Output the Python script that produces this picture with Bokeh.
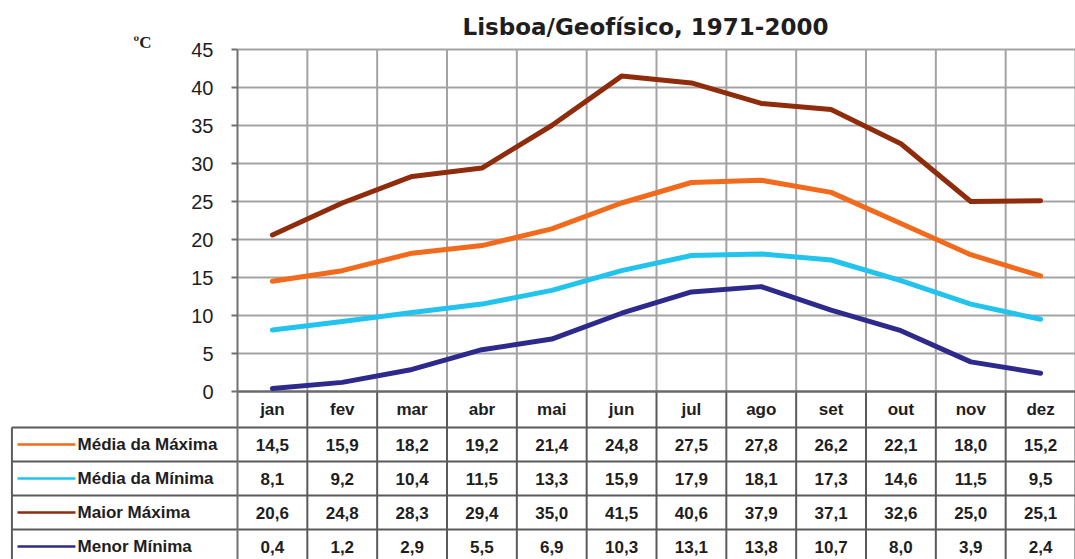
from bokeh.plotting import figure
from bokeh.models import Range1d, FixedTicker, Title
from bokeh.core.properties import value
from bokeh.embed import file_html
from bokeh.resources import INLINE

# ---------------- data ----------------
months = ["jan", "fev", "mar", "abr", "mai", "jun", "jul", "ago", "set", "out", "nov", "dez"]
media_max = [14.5, 15.9, 18.2, 19.2, 21.4, 24.8, 27.5, 27.8, 26.2, 22.1, 18.0, 15.2]
media_min = [8.1, 9.2, 10.4, 11.5, 13.3, 15.9, 17.9, 18.1, 17.3, 14.6, 11.5, 9.5]
maior_max = [20.6, 24.8, 28.3, 29.4, 35.0, 41.5, 40.6, 37.9, 37.1, 32.6, 25.0, 25.1]
menor_min = [0.4, 1.2, 2.9, 5.5, 6.9, 10.3, 13.1, 13.8, 10.7, 8.0, 3.9, 2.4]
series_names = ["Média da Máxima", "Média da Mínima", "Maior Máxima", "Menor Mínima"]
series_values = [media_max, media_min, maior_max, menor_min]
series_colors = ["#f26a1b", "#22c4ee", "#8e2c0c", "#2e2a8c"]
y_ticks = [0, 5, 10, 15, 20, 25, 30, 35, 40, 45]
title_text = "Lisboa/Geofísico,  1971-2000"
unit_text = "ºC"

# ---------------- geometry (pixels -> data units) ----------------
W, H = 1075, 559
n = len(months)
xs = list(range(n))
bounds = [i + 0.5 for i in range(-1, n)]          # column boundaries -0.5 .. 11.5
UX = (1075 - 237) / 12.0                           # px per month column
UY = (391 - 49) / 45.0                             # px per degree
FRAME_TOP = 36
x_left = -0.5 - (237 - 10) / UX                    # left edge of legend column
y_top = (391 - FRAME_TOP) / UY
y_bot = -(559 - 391) / UY
hdr_b = -36 / UY                                   # bottom of month header row
row_u = 34 / UY                                    # table row height

GRID = "#a3a3a3"
TAB = "#5a5a5a"
TXT = "#1e1e1e"
FONT = value("Liberation Sans")

p = figure(width=W, height=H, output_backend="svg", toolbar_location=None,
           x_range=Range1d(x_left, 11.5), y_range=Range1d(y_bot, y_top),
           x_axis_type=None,
           min_border_left=10, min_border_right=0, min_border_top=FRAME_TOP,
           min_border_bottom=0)
p.outline_line_color = None
p.background_fill_color = "white"
p.ygrid.visible = False

main_title = Title(text=title_text, align="left", offset=452, standoff=-6,
                   text_font="DejaVu Sans", text_font_style="bold",
                   text_font_size="23px", text_color=TXT)
p.add_layout(main_title, "above")

# unit label at the top-left of the axis
p.text(x=[-0.5 - (237 - 142) / UX], y=[(391 - 42) / UY], text=[unit_text],
       text_font=value("Liberation Serif"), text_font_style="bold",
       text_font_size="17px", text_color=TXT,
       text_align="center", text_baseline="middle")

# y axis drawn at the left edge of the month columns
ax = p.yaxis[0]
ax.fixed_location = -0.5
ax.ticker = FixedTicker(ticks=y_ticks)
ax.bounds = (y_bot, y_ticks[-1])
ax.axis_line_color = "#707070"
ax.axis_line_width = 2
ax.major_tick_line_color = "#707070"
ax.major_tick_line_width = 2
ax.major_tick_out = 6
ax.major_tick_in = 0
ax.minor_tick_line_color = None
ax.major_label_standoff = 18
ax.major_label_text_font = "Liberation Sans"
ax.major_label_text_font_size = "20px"
ax.major_label_text_color = TXT

# chart grid
gy = y_ticks[1:]
p.segment(x0=[bounds[0]] * len(gy), y0=gy, x1=[bounds[-1]] * len(gy), y1=gy,
          line_color=GRID, line_width=2)
gx = bounds[1:]
p.segment(x0=gx, y0=[0] * len(gx), x1=gx, y1=[y_ticks[-1]] * len(gx),
          line_color=GRID, line_width=2)

# table structure
tab_vx = bounds[1:]
p.segment(x0=tab_vx, y0=[0] * len(tab_vx), x1=tab_vx, y1=[y_bot] * len(tab_vx),
          line_color=TAB, line_width=2)
p.segment(x0=[x_left + 0.02], y0=[hdr_b], x1=[x_left + 0.02], y1=[y_bot],
          line_color=TAB, line_width=2)
row_lines = [hdr_b - k * row_u for k in range(len(series_names))]
p.segment(x0=[x_left + 0.02] * len(row_lines), y0=row_lines,
          x1=[bounds[-1]] * len(row_lines), y1=row_lines, line_color=TAB, line_width=2)
p.segment(x0=[bounds[0]], y0=[0], x1=[bounds[-1]], y1=[0], line_color="#6a6a6a", line_width=2.5)

# series
for vals, col in zip(series_values, series_colors):
    p.line(xs, vals, line_color=col, line_width=5, line_cap="round", line_join="round")

# header months
p.text(x=xs, y=[hdr_b / 2] * n, text=months, text_font=FONT,
       text_font_style="bold", text_font_size="17px", text_color=TXT,
       text_align="center", text_baseline="middle")

# table rows
for r, (name, vals, col) in enumerate(zip(series_names, series_values, series_colors)):
    yc = hdr_b - (r + 0.5) * row_u
    p.segment(x0=[x_left + 0.1], y0=[yc], x1=[x_left + 0.93], y1=[yc],
              line_color=col, line_width=2.5)
    p.text(x=[x_left + 0.96], y=[yc], text=[name], text_font=FONT,
           text_font_style="bold", text_font_size="17px", text_color=TXT,
           text_align="left", text_baseline="middle")
    labels = [f"{v:.1f}".replace(".", ",") for v in vals]
    p.text(x=xs, y=[yc] * n, text=labels, text_font=FONT,
           text_font_style="bold", text_font_size="17px", text_color=TXT,
           text_align="center", text_baseline="middle")

open("out.html", "w").write(file_html(p, INLINE))
